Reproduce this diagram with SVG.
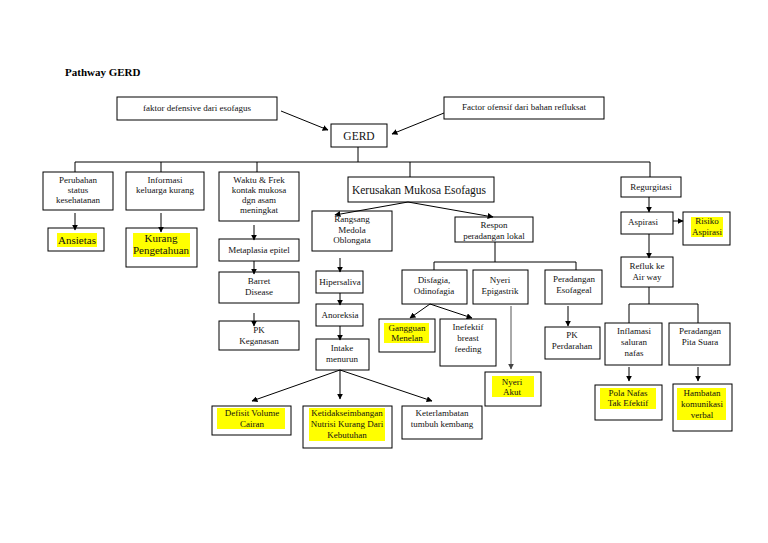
<svg xmlns="http://www.w3.org/2000/svg" width="768" height="543" viewBox="0 0 768 543">
<defs>
<marker id="ah" viewBox="0 0 10 10" refX="9" refY="5" markerWidth="6" markerHeight="6" markerUnits="userSpaceOnUse" orient="auto">
<path d="M0,0 L10,5 L0,10 z" fill="#000"/>
</marker>
<marker id="ahg" viewBox="0 0 10 10" refX="9" refY="5" markerWidth="6" markerHeight="6" markerUnits="userSpaceOnUse" orient="auto">
<path d="M0,0 L10,5 L0,10 z" fill="#444"/>
</marker>
</defs>
<style>
.b{fill:#fff;stroke:#000;stroke-width:1}
.t{font-family:"Liberation Serif","Times New Roman",serif;font-size:9px;fill:#111;text-anchor:middle}
.tl{font-family:"Liberation Serif","Times New Roman",serif;font-size:11px;fill:#111;text-anchor:middle}
.tg{font-family:"Liberation Serif","Times New Roman",serif;font-size:11.5px;fill:#111;text-anchor:middle}
.hl{fill:#ffff00}
.c{fill:none;stroke:#000;stroke-width:1}
.a{fill:none;stroke:#000;stroke-width:1;marker-end:url(#ah)}
.ag{fill:none;stroke:#555;stroke-width:1;marker-end:url(#ahg)}
</style>
<rect width="768" height="543" fill="#fff"/>
<text x="65" y="76" style="font-family:'Liberation Serif','Times New Roman',serif;font-size:11px;font-weight:bold" fill="#000">Pathway GERD</text>

<g id="faktor-defensive"><rect class="b" x="117" y="97" width="160" height="23"/><text class="t" x="197" y="111">faktor defensive dari esofagus</text></g>
<g id="factor-ofensif"><rect class="b" x="444" y="97" width="160" height="22"/><text class="t" x="524" y="110">Factor ofensif dari bahan refluksat</text></g>
<g id="gerd"><rect class="b" x="331" y="124" width="56" height="23"/><text class="tg" x="359" y="140">GERD</text></g>

<g id="perubahan"><rect class="b" x="43" y="172" width="70" height="38"/><text class="t" x="78" y="183">Perubahan</text><text class="t" x="78" y="193">status</text><text class="t" x="78" y="203">kesehatanan</text></g>
<g id="informasi"><rect class="b" x="126" y="172" width="78" height="38"/><text class="t" x="165" y="183">Informasi</text><text class="t" x="165" y="193">keluarga kurang</text></g>
<g id="waktu"><rect class="b" x="219" y="172" width="80" height="49"/><text class="t" x="259" y="183">Waktu &amp; Frek</text><text class="t" x="259" y="193">kontak mukosa</text><text class="t" x="259" y="203">dgn asam</text><text class="t" x="259" y="213">meningkat</text></g>
<g id="kerusakan"><rect class="b" x="348" y="177" width="146" height="25"/><text class="tg" x="419" y="194">Kerusakan Mukosa Esofagus</text></g>
<g id="regurgitasi"><rect class="b" x="621" y="177" width="60" height="20"/><text class="t" x="651" y="190">Regurgitasi</text></g>

<g id="ansietas"><rect class="b" x="48" y="228" width="56" height="23"/><rect class="hl" x="57" y="233" width="40" height="14"/><text class="tl" x="77" y="244">Ansietas</text></g>
<g id="kurang-pengetahuan"><rect class="b" x="126" y="228" width="71" height="39"/><rect class="hl" x="133" y="233" width="57" height="24"/><text class="tl" x="161" y="242">Kurang</text><text class="tl" x="161" y="254">Pengetahuan</text></g>
<g id="metaplasia"><rect class="b" x="219" y="239" width="80" height="22"/><text class="t" x="259" y="253">Metaplasia epitel</text></g>
<g id="barret"><rect class="b" x="219" y="272" width="80" height="31"/><text class="t" x="259" y="284">Barret</text><text class="t" x="259" y="295">Disease</text></g>
<g id="pk-keganasan"><rect class="b" x="219" y="321" width="80" height="29"/><text class="t" x="259" y="333">PK</text><text class="t" x="259" y="344">Keganasan</text></g>

<g id="rangsang"><rect class="b" x="312" y="211" width="80" height="40"/><text class="t" x="352" y="222">Rangsang</text><text class="t" x="352" y="233">Medola</text><text class="t" x="352" y="243">Oblongata</text></g>
<g id="respon"><rect class="b" x="455" y="217" width="78" height="25"/><text class="t" x="494" y="228">Respon</text><text class="t" x="494" y="239">peradangan lokal</text></g>
<g id="hipersaliva"><rect class="b" x="316" y="271" width="47" height="22"/><text class="t" x="340" y="285">Hipersaliva</text></g>
<g id="anoreksia"><rect class="b" x="316" y="304" width="47" height="22"/><text class="t" x="340" y="318">Anoreksia</text></g>
<g id="intake"><rect class="b" x="316" y="339" width="53" height="31"/><text class="t" x="342" y="351">Intake</text><text class="t" x="342" y="362">menurun</text></g>

<g id="disfagia"><rect class="b" x="402" y="270" width="65" height="34"/><text class="t" x="434" y="283">Disfagia,</text><text class="t" x="434" y="294">Odinofagia</text></g>
<g id="nyeri-epigastrik"><rect class="b" x="473" y="270" width="55" height="34"/><text class="t" x="500" y="283">Nyeri</text><text class="t" x="500" y="294">Epigastrik</text></g>
<g id="peradangan-esofageal"><rect class="b" x="545" y="270" width="57" height="34"/><text class="t" x="574" y="282">Peradangan</text><text class="t" x="574" y="293">Esofageal</text></g>
<g id="gangguan-menelan"><rect class="b" x="379" y="319" width="56" height="33"/><rect class="hl" x="384" y="323" width="45" height="20"/><text class="t" x="407" y="331">Gangguan</text><text class="t" x="407" y="341">Menelan</text></g>
<g id="inefektif"><rect class="b" x="440" y="319" width="56" height="47"/><text class="t" x="468" y="330">Inefektif</text><text class="t" x="468" y="341">breast</text><text class="t" x="468" y="352">feeding</text></g>
<g id="pk-perdarahan"><rect class="b" x="545" y="327" width="55" height="32"/><text class="t" x="572" y="338">PK</text><text class="t" x="572" y="349">Perdarahan</text></g>
<g id="nyeri-akut"><rect class="b" x="485" y="372" width="56" height="34"/><rect class="hl" x="492" y="376" width="42" height="21"/><text class="t" x="512" y="385">Nyeri</text><text class="t" x="512" y="395">Akut</text></g>

<g id="aspirasi"><rect class="b" x="621" y="212" width="52" height="22"/><text class="t" x="643" y="225">Aspirasi</text></g>
<g id="risiko-aspirasi"><rect class="b" x="683" y="212" width="47" height="33"/><rect class="hl" x="691" y="217" width="32" height="20"/><text class="t" x="707" y="224">Risiko</text><text class="t" x="707" y="235">Aspirasi</text></g>
<g id="refluk"><rect class="b" x="621" y="257" width="52" height="30"/><text class="t" x="647" y="269">Refluk ke</text><text class="t" x="647" y="280">Air way</text></g>
<g id="inflamasi"><rect class="b" x="605" y="323" width="57" height="42"/><text class="t" x="634" y="334">Inflamasi</text><text class="t" x="634" y="345">saluran</text><text class="t" x="634" y="356">nafas</text></g>
<g id="peradangan-pita"><rect class="b" x="669" y="323" width="61" height="42"/><text class="t" x="700" y="334">Peradangan</text><text class="t" x="700" y="345">Pita Suara</text></g>
<g id="pola-nafas"><rect class="b" x="595" y="385" width="67" height="35"/><rect class="hl" x="600" y="388" width="56" height="21"/><text class="t" x="628" y="396">Pola Nafas</text><text class="t" x="628" y="406">Tak Efektif</text></g>
<g id="hambatan"><rect class="b" x="673" y="384" width="59" height="47"/><rect class="hl" x="677" y="388" width="49" height="32"/><text class="t" x="702" y="396">Hambatan</text><text class="t" x="702" y="407">komunikasi</text><text class="t" x="702" y="418">verbal</text></g>

<g id="defisit"><rect class="b" x="212" y="406" width="79" height="29"/><rect class="hl" x="217" y="408" width="68" height="21"/><text class="t" x="252" y="416">Defisit Volume</text><text class="t" x="252" y="427">Cairan</text></g>
<g id="ketidakseimbangan"><rect class="b" x="303" y="406" width="89" height="42"/><rect class="hl" x="309" y="408" width="76" height="33"/><text class="t" x="347" y="416">Ketidakseimbangan</text><text class="t" x="347" y="427">Nutrisi Kurang Dari</text><text class="t" x="347" y="438">Kebutuhan</text></g>
<g id="keterlambatan"><rect class="b" x="402" y="406" width="80" height="33"/><text class="t" x="442" y="416">Keterlambatan</text><text class="t" x="442" y="427">tumbuh kembang</text></g>

<g id="connectors">
<line class="a" x1="281" y1="111" x2="328" y2="130"/>
<line class="a" x1="444" y1="113" x2="392" y2="134"/>
<polyline class="c" points="358,147 358,162"/>
<polyline class="c" points="75,172 75,162 650,162 650,177"/>
<line class="c" x1="161" y1="162" x2="161" y2="172"/>
<line class="c" x1="257" y1="162" x2="257" y2="172"/>
<line class="c" x1="410" y1="162" x2="410" y2="177"/>
<line class="a" x1="75" y1="213" x2="75" y2="230"/>
<line class="a" x1="161" y1="213" x2="161" y2="232"/>
<line class="a" x1="254" y1="225" x2="254" y2="240"/>
<line class="a" x1="254" y1="261" x2="254" y2="274"/>
<line class="a" x1="254" y1="313" x2="254" y2="326"/>
<line class="a" x1="408" y1="202" x2="335" y2="215"/>
<line class="a" x1="408" y1="202" x2="493" y2="217"/>
<line class="a" x1="340" y1="258" x2="340" y2="272"/>
<line class="a" x1="340" y1="293" x2="340" y2="305"/>
<line class="a" x1="340" y1="326" x2="340" y2="340"/>
<line class="a" x1="340" y1="370" x2="252" y2="401"/>
<line class="a" x1="340" y1="370" x2="340" y2="399"/>
<line class="a" x1="340" y1="370" x2="432" y2="401"/>
<line class="c" x1="495" y1="242" x2="495" y2="262"/>
<polyline class="c" points="434,270 434,262 576,262 576,270"/>
<line class="a" x1="430" y1="304" x2="410" y2="318"/>
<line class="a" x1="430" y1="304" x2="472" y2="318"/>
<line class="ag" x1="511" y1="306" x2="511" y2="369"/>
<line class="a" x1="568" y1="306" x2="568" y2="326"/>
<line class="a" x1="649" y1="197" x2="649" y2="212"/>
<line class="a" x1="673" y1="221" x2="683" y2="221"/>
<line class="a" x1="649" y1="234" x2="649" y2="258"/>
<line class="c" x1="649" y1="287" x2="649" y2="304"/>
<polyline class="c" points="629,323 629,304 698,304 698,323"/>
<line class="a" x1="629" y1="367" x2="629" y2="381"/>
<line class="a" x1="698" y1="367" x2="698" y2="381"/>
</g>
</svg>
